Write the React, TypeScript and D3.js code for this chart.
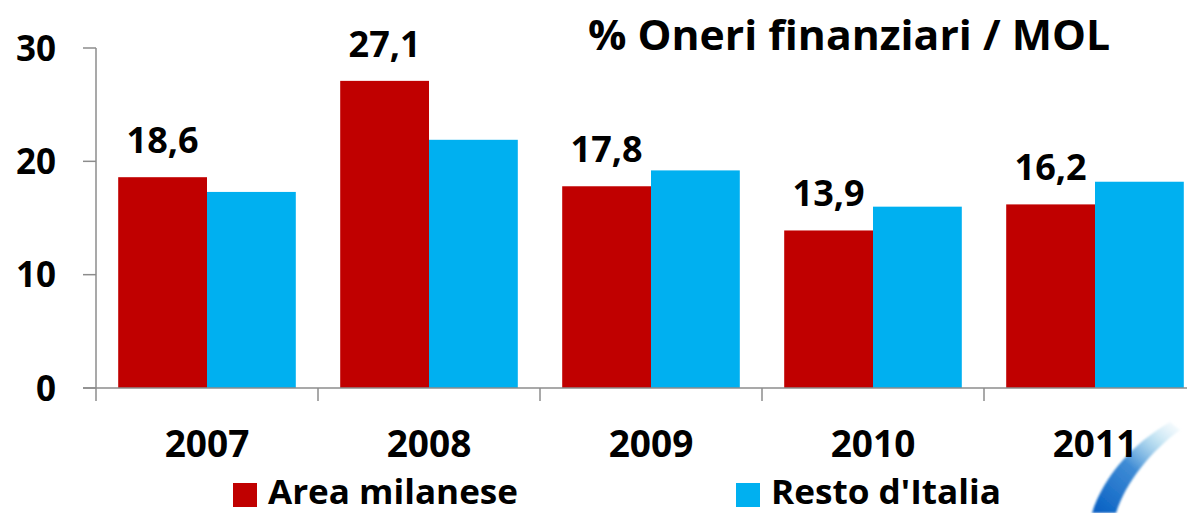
import React, { useRef, useEffect } from 'react';
import * as d3 from 'd3';

// Chart data
const years = ['2007', '2008', '2009', '2010', '2011'];
const seriesNames = ['Area milanese', "Resto d'Italia"];
const areaMilanese = [18.6, 27.1, 17.8, 13.9, 16.2];
const restoItalia = [17.3, 21.9, 19.2, 16.0, 18.2];
const yTicks = [0, 10, 20, 30];
const colors = ['#C00000', '#00B0F0'];

const W = 1187;
const H = 513;
const FONT = '"Open Sans", "DejaVu Sans", sans-serif';

const App = () => {
  const svgRef = useRef<SVGSVGElement | null>(null);

  useEffect(() => {
    if (!svgRef.current) return;
    const svg = d3.select(svgRef.current);
    svg.selectAll('*').remove();

    const axisColor = '#8c8c8c';

    // Scales
    const x0 = d3.scaleBand<string>()
      .domain(years)
      .range([96, 1206])
      .paddingInner(0.2)
      .paddingOuter(0.1);

    const x1 = d3.scaleBand<string>()
      .domain(seriesNames)
      .range([0, x0.bandwidth()]);

    const y = d3.scaleLinear().domain([0, 30]).range([388, 48]);

    // Decorative swoosh (bottom right of the slide)
    const defs = svg.append('defs');
    const grad = defs.append('linearGradient')
      .attr('id', 'swoosh')
      .attr('gradientUnits', 'userSpaceOnUse')
      .attr('x1', 1100).attr('y1', 513).attr('x2', 1180).attr('y2', 420);
    grad.append('stop').attr('offset', '0%').attr('stop-color', '#0a62c4').attr('stop-opacity', 1);
    grad.append('stop').attr('offset', '45%').attr('stop-color', '#2a7fd0').attr('stop-opacity', 0.9);
    grad.append('stop').attr('offset', '75%').attr('stop-color', '#8fcbe8').attr('stop-opacity', 0.55);
    grad.append('stop').attr('offset', '100%').attr('stop-color', '#d6eef8').attr('stop-opacity', 0.1);
    const blur = defs.append('filter').attr('id', 'soft');
    blur.append('feGaussianBlur').attr('stdDeviation', 1.2);
    svg.append('path')
      .attr('d', 'M1092,513 C1104,476 1132,444 1170,422 L1180,430 C1150,452 1126,482 1116,513 Z')
      .attr('fill', 'url(#swoosh)')
      .attr('filter', 'url(#soft)');

    // Bars
    const data = years.map((yr, i) => ({ year: yr, values: [areaMilanese[i], restoItalia[i]] }));
    const groups = svg.append('g')
      .selectAll('g')
      .data(data)
      .enter()
      .append('g')
      .attr('transform', d => `translate(${x0(d.year)},0)`);

    groups.selectAll('rect')
      .data(d => d.values.map((v, j) => ({ name: seriesNames[j], value: v, color: colors[j] })))
      .enter()
      .append('rect')
      .attr('x', d => x1(d.name) as number)
      .attr('y', d => y(d.value))
      .attr('width', x1.bandwidth())
      .attr('height', d => y(0) - y(d.value))
      .attr('fill', d => d.color);

    // Value labels above the red bars
    groups.append('text')
      .attr('x', (x1(seriesNames[0]) as number) + x1.bandwidth() / 2)
      .attr('y', d => y(d.values[0]) - 24)
      .attr('text-anchor', 'middle')
      .attr('font-family', FONT)
      .attr('font-weight', 'bold')
      .attr('font-size', 36)
      .attr('fill', '#000')
      .text(d => d3.format('.1f')(d.values[0]).replace('.', ','));

    // Y axis
    const yAxis = svg.append('g');
    yAxis.append('line')
      .attr('x1', 96).attr('x2', 96)
      .attr('y1', y(30)).attr('y2', y(0))
      .attr('stroke', axisColor).attr('stroke-width', 1.5);
    yAxis.selectAll('line.tick')
      .data(yTicks)
      .enter()
      .append('line')
      .attr('class', 'tick')
      .attr('x1', 83).attr('x2', 96)
      .attr('y1', d => y(d)).attr('y2', d => y(d))
      .attr('stroke', axisColor).attr('stroke-width', 1.5);
    yAxis.selectAll('text')
      .data(yTicks)
      .enter()
      .append('text')
      .attr('x', 56)
      .attr('y', d => y(d))
      .attr('dy', '0.36em')
      .attr('text-anchor', 'end')
      .attr('font-family', FONT)
      .attr('font-weight', 'bold')
      .attr('font-size', 35)
      .attr('fill', '#000')
      .text(d => d);

    // X axis
    const xAxis = svg.append('g');
    xAxis.append('line')
      .attr('x1', 83).attr('x2', W)
      .attr('y1', y(0)).attr('y2', y(0))
      .attr('stroke', axisColor).attr('stroke-width', 1.5);
    const boundaries = years.map(yr => (x0(yr) as number) - x0.step() * x0.paddingOuter());
    xAxis.selectAll('line.tick')
      .data(boundaries)
      .enter()
      .append('line')
      .attr('class', 'tick')
      .attr('x1', d => d).attr('x2', d => d)
      .attr('y1', y(0)).attr('y2', y(0) + 13)
      .attr('stroke', axisColor).attr('stroke-width', 1.5);
    xAxis.selectAll('text')
      .data(years)
      .enter()
      .append('text')
      .attr('x', d => (x0(d) as number) + x0.bandwidth() / 2)
      .attr('y', 457)
      .attr('text-anchor', 'middle')
      .attr('font-family', FONT)
      .attr('font-weight', 'bold')
      .attr('font-size', 37)
      .attr('fill', '#000')
      .text(d => d);

    // Title
    svg.append('text')
      .attr('x', 588)
      .attr('y', 50)
      .attr('font-family', FONT)
      .attr('font-weight', 'bold')
      .attr('font-size', 42)
      .attr('textLength', 522)
      .attr('lengthAdjust', 'spacingAndGlyphs')
      .attr('fill', '#000')
      .text('% Oneri finanziari / MOL');

    // Legend
    const legendItems = [
      { name: seriesNames[0], color: colors[0], x: 233, textLen: 250 },
      { name: seriesNames[1], color: colors[1], x: 736, textLen: 230 },
    ];
    const legend = svg.append('g');
    legendItems.forEach(item => {
      legend.append('rect')
        .attr('x', item.x).attr('y', 483)
        .attr('width', 24).attr('height', 24)
        .attr('fill', item.color);
      legend.append('text')
        .attr('x', item.x + 35)
        .attr('y', 504)
        .attr('font-family', FONT)
        .attr('font-weight', 'bold')
        .attr('font-size', 34)
        .attr('textLength', item.textLen)
        .attr('lengthAdjust', 'spacingAndGlyphs')
        .attr('fill', '#000')
        .text(item.name);
    });
  }, []);

  return (
    <svg
      ref={svgRef}
      width={W}
      height={H}
      style={{ position: 'absolute', left: 0, top: 0, background: '#fff', display: 'block' }}
    />
  );
};

export default App;
